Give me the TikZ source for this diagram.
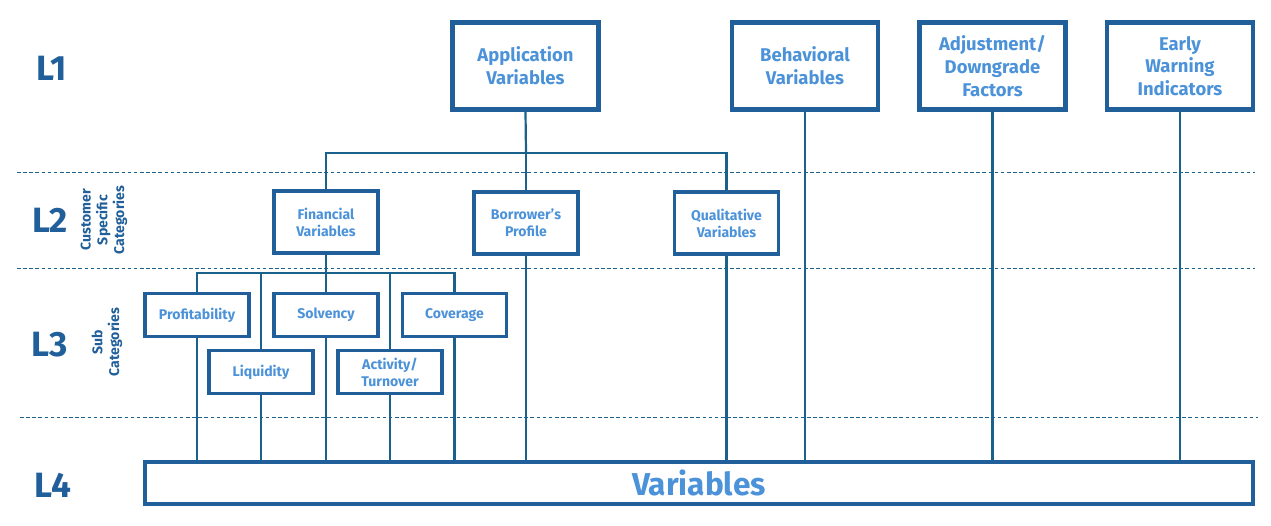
\documentclass[tikz,border=0pt]{standalone}
\usepackage{fontspec}
\setmainfont{Fira Sans}
\definecolor{boxblue}{RGB}{33,95,154}
\definecolor{txtblue}{RGB}{76,146,216}
\definecolor{linkblue}{RGB}{26,98,140}
\begin{document}
\begin{tikzpicture}[x=0.02cm, y=-0.02cm,
  lvl/.style={text=boxblue, font=\fontsize{20}{20}\selectfont\bfseries},
  side/.style={text=boxblue, rotate=90, align=center, font=\fontsize{8}{9.5}\selectfont\bfseries},
  topbox/.style={draw=boxblue, line width=2.8pt, text=txtblue, align=center, inner sep=0pt,
    minimum width=2.92cm, minimum height=1.74cm, font=\fontsize{10.5}{13}\selectfont\bfseries},
  catbox/.style={draw=boxblue, line width=2pt, text=txtblue, align=center, inner sep=0pt,
    minimum width=2.08cm, minimum height=1.24cm, font=\fontsize{8}{9.6}\selectfont\bfseries},
  subbox/.style={catbox, minimum height=0.86cm},
  link/.style={draw=linkblue, line width=1.25pt},
  sep/.style={draw=linkblue, line width=0.5pt, dash pattern=on 2pt off 1.5pt}]
\useasboundingbox (0,0) rectangle (1271,525);
% level rules
\draw[sep] (17,172) -- (1255,172);
\draw[sep] (17,268) -- (1255,268);
\draw[sep] (20,417) -- (1258,417);
% level labels
\node[lvl] (l1) at (52,68) {L1};
\node[lvl] (l2) at (50,220) {L2};
\node[lvl] (l3) at (50,345) {L3};
\node[lvl] (l4) at (53,485) {L4};
\node[side] (cust) at (104,220) {Customer\\Specific\\Categories};
\node[side] (subc) at (107,342) {Sub\\Categories};
% L1
\node[topbox] (app) at (525.5,66) {Application\\Variables};
\node[topbox] (beh) at (805,66) {Behavioral\\Variables};
\node[topbox] (adj) at (992.5,66) {Adjustment/\\Downgrade\\Factors};
\node[topbox] (ewi) at (1180,66) {Early\\Warning\\Indicators};
% L2
\node[catbox] (fin) at (326,222) {Financial\\Variables};
\node[catbox] (bor) at (526,223) {Borrower's\\Profile};
\node[catbox] (qual) at (726.5,223) {Qualitative\\Variables};
% L3
\node[subbox] (prof) at (197,315) {Profitability};
\node[subbox] (solv) at (326,315) {Solvency};
\node[subbox] (cov) at (454.5,315) {Coverage};
\node[subbox] (liq) at (261,372) {Liquidity};
\node[subbox] (act) at (390,372) {Activity/\\Turnover};
% L4
\node[draw=boxblue, line width=2.3pt, text=txtblue, inner sep=0pt, minimum width=22.16cm,
  minimum height=0.84cm, font=\fontsize{18}{18}\selectfont\bfseries] (var) at (699,483) {Variables};
% connectors
\coordinate (busA) at (526,153);
\coordinate (busF) at (326,273);
\draw[link] (app.south) -- (busA);
\draw[link] (fin.north) |- (busA) -| (qual.north);
\draw[link] (busA) -- (bor.north);
\draw[link] (fin.south) -- (busF);
\draw[link] (prof.north) |- (busF) -| (cov.north);
\draw[link] (busF) -- (solv.north);
\draw[link] (liq.north) -- (liq.north |- busF);
\draw[link] (act.north) -- (act.north |- busF);
\foreach \n in {prof,liq,solv,act,cov,bor,qual,beh,adj,ewi}
  \draw[link] (\n.south) -- (\n.south |- var.north);
\end{tikzpicture}
\end{document}
